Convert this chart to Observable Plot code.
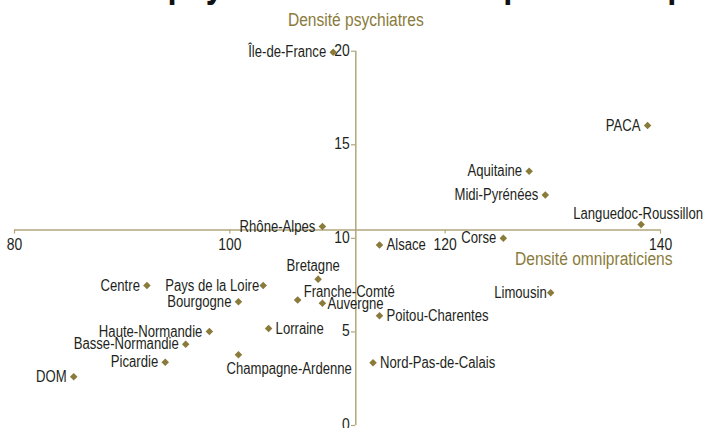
<!DOCTYPE html>
<html>
<head>
<meta charset="utf-8">
<script src="https://cdn.jsdelivr.net/npm/d3@7"></script>
<script src="https://cdn.jsdelivr.net/npm/@observablehq/plot@0.6"></script>
<style>
  html, body { margin: 0; padding: 0; background: #fff; overflow: hidden; }
  #chart svg { display: block; overflow: visible; }
</style>
</head>
<body>
<div id="chart"></div>
<script>
const title = "Densité de psychiatres et d'omnipraticiens par région";
const xTitle = "Densité omnipraticiens";
const yTitle = "Densité psychiatres";

const regions = ["Île-de-France","PACA","Aquitaine","Midi-Pyrénées","Languedoc-Roussillon","Corse","Alsace","Limousin","Poitou-Charentes","Nord-Pas-de-Calais","Rhône-Alpes","Bretagne","Franche-Comté","Auvergne","Pays de la Loire","Bourgogne","Lorraine","Champagne-Ardenne","Centre","Haute-Normandie","Basse-Normandie","Picardie","DOM"];
const omni = [109.6,138.8,127.8,129.3,138.2,125.4,113.9,129.8,113.9,113.3,108.6,108.2,106.3,108.6,103.1,100.8,103.6,100.8,92.3,98.1,95.9,94.0,85.5];
const psy  = [19.94,16.03,13.58,12.32,10.74,10.0,9.65,7.09,5.86,3.35,10.63,7.82,6.71,6.53,7.48,6.61,5.18,3.78,7.48,5.02,4.34,3.38,2.6];

const xTicks = [80,100,120,140];
const yTicks = [0,5,10,15,20];
const xCross = 111.7;   // where the vertical axis crosses
const yCross = 10.45;   // where the horizontal axis crosses

const data = regions.map((r,i) => ({region: r, x: omni[i], y: psy[i]}));

const olive = "#8a7b3b";
const axisCol = "#b2a67a";
const txt = "#231f20";
const font = "'Liberation Sans', Arial, sans-serif";
const narrow = 0.82; // horizontal condensing of the text

const rightSet = ["Alsace","Lorraine","Poitou-Charentes","Nord-Pas-de-Calais"];
const tightLeft = ["Pays de la Loire","Limousin"];
const special = ["Auvergne","Franche-Comté","Bretagne","Languedoc-Roussillon","Champagne-Ardenne"];
const leftSet = regions.filter(r => !rightSet.includes(r) && !tightLeft.includes(r) && !special.includes(r));
const pick = names => data.filter(d => names.includes(d.region));

const lab = {x: "x", y: "y", text: "region", fill: txt, fontSize: 16};

const chart = Plot.plot({
  width: 705,
  height: 428,
  margin: 0,
  style: {fontFamily: font, background: "#fff", overflow: "visible"},
  x: {domain: [80,140], range: [14,660], axis: null},
  y: {domain: [0,20], range: [425,50.7], axis: null},
  marks: [
    // title (mostly above the window)
    Plot.text([title], {frameAnchor: "top-left", dx: -8, dy: -4, lineAnchor: "bottom", textAnchor: "start", fontSize: 40, fontWeight: "bold", fill: "#111"}),
    // axes
    Plot.ruleY([yCross], {x1: 80, x2: 140, stroke: axisCol, strokeWidth: 1.5}),
    Plot.ruleX([xCross], {y1: 0, y2: 20, stroke: axisCol, strokeWidth: 1.5}),
    Plot.ruleX(xTicks, {x: d => d, y1: yCross, y2: yCross - 0.22, stroke: axisCol, strokeWidth: 1.2}),
    Plot.ruleY(yTicks, {y: d => d, x1: xCross - 0.4, x2: xCross, stroke: axisCol, strokeWidth: 1.2}),
    Plot.text(xTicks, {x: d => d, y: yCross, dy: 15, text: d => String(d), fill: txt, fontSize: 17}),
    Plot.text(yTicks, {x: xCross, y: d => d, dx: -6, dy: -1, textAnchor: "end", text: d => String(d), fill: txt, fontSize: 17}),
    Plot.text([yTitle], {x: xCross, y: 20, dy: -31, fill: olive, fontSize: 19}),
    Plot.text([xTitle], {x: 140, y: yCross, dx: 12, dy: 29, textAnchor: "end", fill: olive, fontSize: 19}),
    // points
    Plot.dot(data, {x: "x", y: "y", symbol: "diamond2", r: 3.4, fill: olive, stroke: "none"}),
    // labels
    Plot.text(pick(leftSet), {...lab, textAnchor: "end", dx: -7}),
    Plot.text(pick(tightLeft), {...lab, textAnchor: "end", dx: -4}),
    Plot.text(pick(rightSet), {...lab, textAnchor: "start", dx: 7}),
    Plot.text(pick(["Auvergne"]), {...lab, textAnchor: "start", dx: 5, dy: 1}),
    Plot.text(pick(["Franche-Comté"]), {...lab, textAnchor: "start", dx: 6, dy: -8}),
    Plot.text(pick(["Bretagne"]), {...lab, textAnchor: "middle", dx: -5, dy: -13}),
    Plot.text(pick(["Languedoc-Roussillon"]), {...lab, textAnchor: "middle", dx: -3, dy: -11}),
    Plot.text(pick(["Champagne-Ardenne"]), {...lab, textAnchor: "start", dx: -12, dy: 14})
  ]
});

// condense every text horizontally around its own anchor point
d3.select(chart).selectAll("text").each(function() {
  const t = this.getAttribute("transform");
  if (t) {
    this.setAttribute("transform", t + ` scale(${narrow},1)`);
  } else {
    const x = +(this.getAttribute("x") || 0), y = +(this.getAttribute("y") || 0);
    this.removeAttribute("x"); this.removeAttribute("y");
    this.setAttribute("transform", `translate(${x},${y}) scale(${narrow},1)`);
  }
});

document.getElementById("chart").append(chart);
</script>
</body>
</html>
